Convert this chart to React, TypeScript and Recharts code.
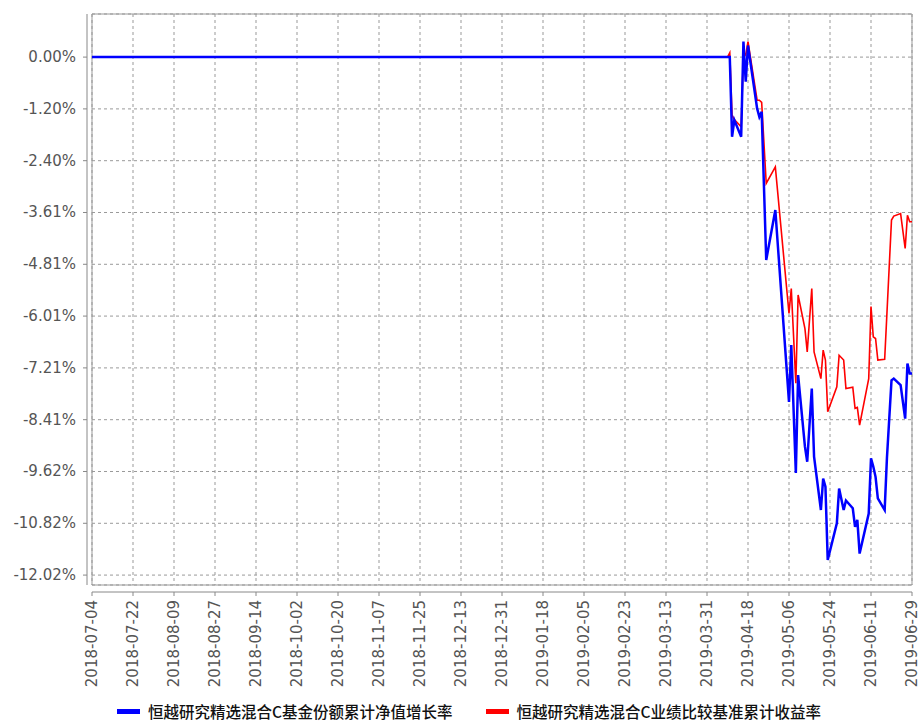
import { LineChart, Line, XAxis, YAxis, CartesianGrid, Legend, ReferenceArea } from "recharts";

const startDate = "2018-07-04";

const dates = [
  "2018-07-04", "2019-04-09", "2019-04-10", "2019-04-11", "2019-04-12", "2019-04-15",
  "2019-04-16", "2019-04-17", "2019-04-18", "2019-04-22", "2019-04-23", "2019-04-24",
  "2019-04-26", "2019-04-30", "2019-05-06", "2019-05-07", "2019-05-09", "2019-05-10",
  "2019-05-13", "2019-05-14", "2019-05-16", "2019-05-17", "2019-05-20", "2019-05-21",
  "2019-05-22", "2019-05-23", "2019-05-27", "2019-05-28", "2019-05-30", "2019-05-31",
  "2019-06-03", "2019-06-04", "2019-06-05", "2019-06-06", "2019-06-10", "2019-06-11",
  "2019-06-12", "2019-06-13", "2019-06-14", "2019-06-17", "2019-06-18", "2019-06-20",
  "2019-06-21", "2019-06-24", "2019-06-26", "2019-06-27", "2019-06-28", "2019-06-29",
];

// 基金份额累计净值增长率 (%)
const navGrowth = [
  0, 0, 0, -1.85, -1.46, -1.85,
  0.36, -0.57, 0.27, -1.19, -1.39, -1.27,
  -4.71, -3.55, -8.0, -6.68, -9.65, -7.38,
  -9.04, -9.39, -7.69, -9.27, -10.51, -9.78,
  -9.97, -11.67, -10.82, -10.01, -10.51, -10.29,
  -10.47, -10.9, -10.74, -11.52, -10.59, -9.31,
  -9.5, -9.74, -10.24, -10.51, -9.3, -7.5,
  -7.46, -7.61, -8.39, -7.11, -7.34, -7.34,
];

// 业绩比较基准累计收益率 (%)
const benchmark = [
  0, 0, 0.1, -1.35, -1.45, -1.62,
  0.12, 0.05, 0.36, -1.0, -1.0, -1.05,
  -2.93, -2.55, -5.95, -5.37, -7.57, -5.52,
  -6.3, -6.84, -5.37, -6.84, -7.46, -6.8,
  -7.03, -8.23, -7.65, -6.92, -7.03, -7.69,
  -7.66, -8.15, -8.13, -8.54, -7.46, -5.79,
  -6.49, -6.53, -7.03, -7.01, -5.94, -3.78,
  -3.69, -3.63, -4.44, -3.67, -3.82, -3.82,
];

const xTickLabels = [
  "2018-07-04", "2018-07-22", "2018-08-09", "2018-08-27", "2018-09-14", "2018-10-02",
  "2018-10-20", "2018-11-07", "2018-11-25", "2018-12-13", "2018-12-31", "2019-01-18",
  "2019-02-05", "2019-02-23", "2019-03-13", "2019-03-31", "2019-04-18", "2019-05-06",
  "2019-05-24", "2019-06-11", "2019-06-29",
];

const yTicks = [0, -1.202, -2.404, -3.606, -4.808, -6.01, -7.212, -8.414, -9.616, -10.818, -12.02];
const yTickLabels = ["0.00%", "-1.20%", "-2.40%", "-3.61%", "-4.81%", "-6.01%", "-7.21%", "-8.41%", "-9.62%", "-10.82%", "-12.02%"];

const navName = "恒越研究精选混合C基金份额累计净值增长率";
const benchName = "恒越研究精选混合C业绩比较基准累计收益率";

const dayOf = (s: string) => Math.round((Date.parse(s) - Date.parse(startDate)) / 86400000);

const data = dates.map((d, i) => ({ day: dayOf(d), nav: navGrowth[i], bench: benchmark[i] }));
const xTicks = xTickLabels.map(dayOf);
const xLast = xTicks[xTicks.length - 1];

const axisColor = "#888";
const labelColor = "#555";

function XTick(props: any) {
  const { x, y, payload } = props;
  const label = xTickLabels[xTicks.indexOf(payload.value)] ?? "";
  return (
    <g>
      <line x1={x} x2={x} y1={y + 7} y2={y + 11} stroke={axisColor} />
      <text
        x={0}
        y={0}
        transform={`translate(${x + 5},${y + 15}) rotate(-90)`}
        textAnchor="end"
        fill={labelColor}
        fontSize={15}
        fontFamily="DejaVu Sans"
      >
        {label}
      </text>
    </g>
  );
}

function YTick(props: any) {
  const { x, y, payload } = props;
  const idx = yTicks.indexOf(payload.value);
  return (
    <g>
      <line x1={x - 9} x2={x - 5} y1={y} y2={y} stroke={axisColor} />
      <text x={x - 16} y={y + 5} textAnchor="end" fill={labelColor} fontSize={15} fontFamily="DejaVu Sans">
        {yTickLabels[idx]}
      </text>
    </g>
  );
}

function LegendBox() {
  const items = [
    { name: navName, color: "#0000ff" },
    { name: benchName, color: "#ff0000" },
  ];
  return (
    <div style={{ display: "flex", paddingLeft: 117, alignItems: "center", height: 22 }}>
      {items.map((it, i) => (
        <div key={it.name} style={{ display: "flex", alignItems: "center", marginRight: i === 0 ? 33 : 0 }}>
          <span style={{ width: 23, height: 5, background: it.color, marginRight: 8, display: "inline-block" }} />
          <span style={{ fontSize: 15.5, fontWeight: 500, color: "#111", fontFamily: "Noto Sans CJK SC" }}>{it.name}</span>
        </div>
      ))}
    </div>
  );
}

export default function App() {
  return (
    <div style={{ position: "absolute", left: 0, top: 0, fontFamily: "DejaVu Sans" }}>
      <LineChart width={919} height={722} data={data} margin={{ top: 14, right: 7, left: 0, bottom: 0 }}>
        <CartesianGrid stroke="#999" strokeDasharray="3 3" />
        <XAxis
          type="number"
          dataKey="day"
          domain={[0, xLast]}
          ticks={xTicks}
          interval={0}
          height={115}
          tickSize={0}
          tickMargin={0}
          tickLine={false}
          tick={<XTick />}
          axisLine={{ stroke: axisColor, transform: "translate(0 7)" }}
          allowDataOverflow
        />
        <YAxis
          type="number"
          domain={[-12.25, 1]}
          ticks={yTicks}
          interval={0}
          width={92}
          tickSize={0}
          tickMargin={0}
          tickLine={false}
          tick={<YTick />}
          axisLine={{ stroke: axisColor, transform: "translate(-5 0)" }}
          allowDataOverflow
        />
        <ReferenceArea x1={0} x2={xLast} y1={-12.25} y2={1} fill="none" stroke="#999" strokeWidth={1} />
        <Legend verticalAlign="bottom" height={22} content={<LegendBox />} />
        <Line
          type="linear"
          dataKey="bench"
          stroke="#ff0000"
          strokeWidth={1.6}
          dot={false}
          isAnimationActive={false}
          name={benchName}
        />
        <Line
          type="linear"
          dataKey="nav"
          stroke="#0000ff"
          strokeWidth={2.5}
          dot={false}
          isAnimationActive={false}
          name={navName}
        />
      </LineChart>
    </div>
  );
}
